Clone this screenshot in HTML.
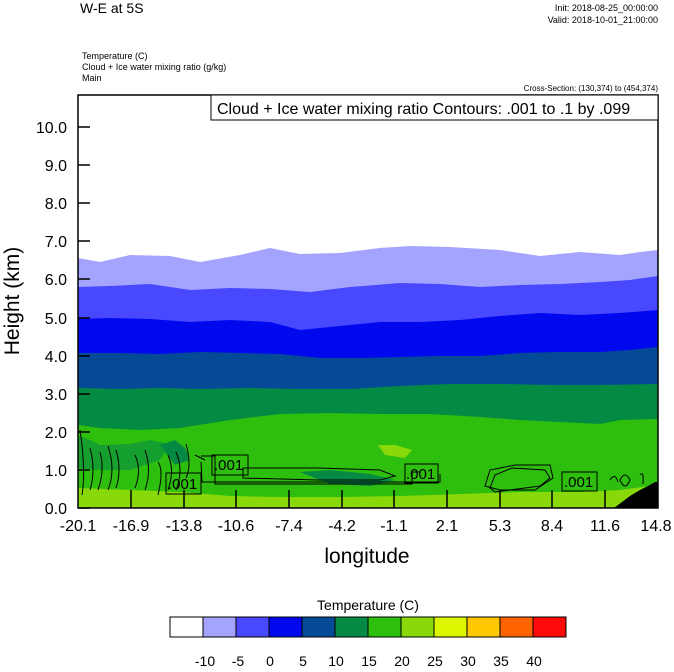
<!DOCTYPE html>
<html><head><meta charset="utf-8"><style>
body{margin:0;background:#fff;}
svg text{font-family:"Liberation Sans",sans-serif;}
</style></head><body>
<svg width="674" height="667" viewBox="0 0 674 667" xmlns="http://www.w3.org/2000/svg">
<rect width="674" height="667" fill="#fff"/>
<text x="80" y="13" font-size="14">W-E at 5S</text>
<text x="658" y="11" font-size="9" text-anchor="end">Init: 2018-08-25_00:00:00</text>
<text x="658" y="23" font-size="9" text-anchor="end">Valid: 2018-10-01_21:00:00</text>
<text x="82" y="59" font-size="9">Temperature   (C)</text>
<text x="82" y="70" font-size="9">Cloud + Ice water mixing ratio   (g/kg)</text>
<text x="82" y="81" font-size="9">Main</text>
<text x="658" y="91" font-size="8" text-anchor="end">Cross-Section: (130,374) to (454,374)</text>
<g>
<rect x="78" y="95" width="580" height="413" fill="#fff"/>
<path d="M78,258 L100,262 L130,255 L170,256 L200,262 L240,255 L270,248 L300,254 L340,253 L380,248 L410,246 L450,247 L500,250 L540,256 L580,252 L620,255 L640,252 L658,250 L658,508 L78,508Z" fill="#a4a4ff"/>
<path d="M78,287 L110,286 L150,284 L190,290 L230,288 L270,289 L310,292 L350,287 L400,283 L440,284 L480,287 L520,285 L560,284 L600,282 L630,280 L658,276 L658,508 L78,508Z" fill="#4848ff"/>
<path d="M78,319 L110,318 L150,319 L190,322 L230,320 L270,322 L300,330 L340,326 L380,322 L420,322 L460,320 L500,316 L540,313 L580,315 L620,313 L658,310 L658,508 L78,508Z" fill="#0008ee"/>
<path d="M78,353 L120,353 L160,354 L200,352 L240,353 L280,354 L320,358 L360,358 L400,357 L440,356 L480,356 L520,353 L560,352 L600,352 L630,350 L658,347 L658,508 L78,508Z" fill="#054a96"/>
<path d="M78,388 L120,389 L160,388 L200,389 L250,388 L300,389 L350,389 L400,386 L450,384 L500,384 L550,385 L600,385 L658,384 L658,508 L78,508Z" fill="#058a44"/>
<path d="M78,425 L100,428 L140,430 L180,428 L230,420 L280,414 L330,413 L380,414 L430,414 L480,417 L520,420 L560,422 L600,424 L620,420 L658,419 L658,508 L78,508Z" fill="#2ebe0e"/>
<path d="M78,436 L90,440 L100,445 L130,444 L150,440 L170,444 L160,460 L130,470 L100,470 L78,468Z" fill="#058a44" opacity="0.6"/>
<path d="M160,445 L175,440 L185,448 L190,460 L175,465Z" fill="#058a44"/>
<path d="M300,472 L330,470 L370,474 L395,480 L370,486 L330,484Z" fill="#058a44"/>
<path d="M378,445 L395,445 L412,450 L405,458 L385,455Z" fill="#88d80a"/>
<path d="M78,488 L130,490 L180,492 L230,496 L280,497 L340,497 L400,496 L460,494 L520,492 L580,492 L620,490 L650,486 L658,488 L658,508 L78,508Z" fill="#88d80a"/>
<path d="M614,508 L630,496 L640,490 L648,486 L655,482 L658,482 L658,508Z" fill="#000"/>
<g fill="none" stroke="#000" stroke-width="1">
<path d="M80,430 Q86,470 82,495 M90,448 Q96,470 90,490 M100,452 Q105,470 98,490 M108,446 Q116,470 108,490 M116,450 Q122,470 116,488 M135,455 Q142,470 135,488 M145,450 Q152,470 145,490 M158,462 Q164,470 158,495 M168,455 Q175,470 168,490 M176,452 Q184,470 176,490 M186,444 Q192,465 186,478 M195,455 L205,460"/>
<path d="M201,456 L215,456 L215,484 L412,484 L412,472 L420,472 M201,462 L202,482 L440,482 L440,474 M243,468 L318,468 L380,470 L395,476 L380,480 L318,480 L243,478Z"/>
<path d="M485,486 L490,470 L515,465 L550,465 L553,478 L535,490 L500,490 Z"/>
<path d="M490,488 L495,475 L512,468 L545,470 L550,478 L540,486 L495,492Z"/>
<path d="M620,480 Q625,470 630,480 Q625,492 620,480 M610,480 Q615,472 618,482 M640,475 Q644,470 643,484"/>
</g>
<g font-size="15" fill="#000">
<rect x="166" y="473" width="35" height="21" fill="none" stroke="#000"/>
<text x="168" y="489">.001</text>
<rect x="212" y="455" width="36" height="20" fill="none" stroke="#000"/>
<text x="214" y="470">.001</text>
<rect x="405" y="464" width="33" height="19" fill="none" stroke="#000"/>
<text x="406" y="479">.001</text>
<rect x="562" y="472" width="35" height="19" fill="none" stroke="#000"/>
<text x="564" y="487">.001</text>
</g>
<rect x="78" y="95" width="580" height="413" fill="none" stroke="#000" stroke-width="1.5"/>
<rect x="211" y="95" width="447" height="25" fill="#fff" stroke="#000"/>
<text x="217" y="114" font-size="16">Cloud + Ice water mixing ratio Contours: .001 to .1 by .099</text>
<g stroke="#000" stroke-width="1.5">
<path d="M78,508h12M78,470h12M78,432h12M78,394h12M78,356h12M78,318h12M78,279h12M78,241h12M78,203h12M78,165h12M78,127h12"/>
<path d="M131,508v-18M184,508v-18M236,508v-18M289,508v-18M342,508v-18M394,508v-18M447,508v-18M500,508v-18M552,508v-18M605,508v-18"/>
</g>
<g font-size="16" text-anchor="end">
<text x="67" y="514">0.0</text><text x="67" y="476">1.0</text><text x="67" y="438">2.0</text><text x="67" y="400">3.0</text><text x="67" y="362">4.0</text><text x="67" y="324">5.0</text><text x="67" y="285">6.0</text><text x="67" y="247">7.0</text><text x="67" y="209">8.0</text><text x="67" y="171">9.0</text><text x="67" y="133">10.0</text>
</g>
<g font-size="16" text-anchor="middle">
<text x="78" y="531">-20.1</text><text x="131" y="531">-16.9</text><text x="184" y="531">-13.8</text><text x="236" y="531">-10.6</text><text x="289" y="531">-7.4</text><text x="342" y="531">-4.2</text><text x="394" y="531">-1.1</text><text x="447" y="531">2.1</text><text x="500" y="531">5.3</text><text x="552" y="531">8.4</text><text x="605" y="531">11.6</text><text x="656" y="531">14.8</text>
</g>
<text x="367" y="563" font-size="21" text-anchor="middle">longitude</text>
<text transform="translate(19,301) rotate(-90)" font-size="21" text-anchor="middle">Height (km)</text>
</g>
<text x="368" y="610" font-size="14" text-anchor="middle">Temperature  (C)</text>
<g stroke="#000" stroke-width="1">
<rect x="170" y="617" width="33" height="20" fill="#fff"/>
<rect x="203" y="617" width="33" height="20" fill="#a4a4ff"/>
<rect x="236" y="617" width="33" height="20" fill="#4848ff"/>
<rect x="269" y="617" width="33" height="20" fill="#0008ee"/>
<rect x="302" y="617" width="33" height="20" fill="#054a96"/>
<rect x="335" y="617" width="33" height="20" fill="#058a44"/>
<rect x="368" y="617" width="33" height="20" fill="#2ebe0e"/>
<rect x="401" y="617" width="33" height="20" fill="#88d80a"/>
<rect x="434" y="617" width="33" height="20" fill="#dcf500"/>
<rect x="467" y="617" width="33" height="20" fill="#ffc800"/>
<rect x="500" y="617" width="33" height="20" fill="#ff6400"/>
<rect x="533" y="617" width="33" height="20" fill="#ff0a0a"/>
</g>
<g font-size="14" text-anchor="middle">
<text x="205" y="666">-10</text><text x="238" y="666">-5</text><text x="270" y="666">0</text><text x="303" y="666">5</text><text x="336" y="666">10</text><text x="369" y="666">15</text><text x="402" y="666">20</text><text x="435" y="666">25</text><text x="468" y="666">30</text><text x="501" y="666">35</text><text x="534" y="666">40</text>
</g>
</svg>
</body></html>
